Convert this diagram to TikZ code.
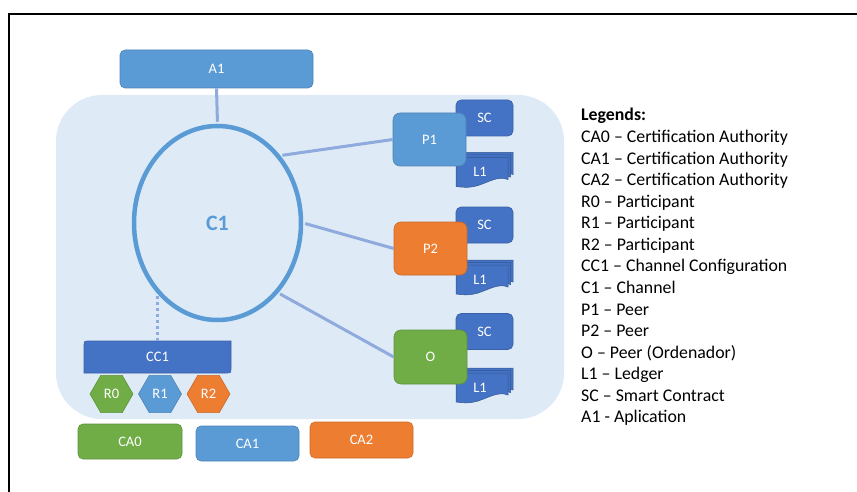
\documentclass[tikz,border=0pt]{standalone}
\usepackage{fontspec}
\setmainfont{Carlito}
\usetikzlibrary{shapes.geometric}
\definecolor{cblue}{RGB}{91,155,213}
\definecolor{dblue}{RGB}{68,114,196}
\definecolor{corange}{RGB}{237,125,49}
\definecolor{cgreen}{RGB}{112,173,71}
\definecolor{bgblue}{RGB}{222,235,247}
\definecolor{lineblue}{RGB}{143,170,220}
\tikzset{
  lbl/.style={text=white, font=\fontsize{14.5}{16}\selectfont},
  box/.style={rectangle, rounded corners=5pt, inner sep=0pt, lbl, line width=0.6pt},
  bluebox/.style={box, fill=cblue, draw=cblue!85!black},
  darkbox/.style={box, fill=dblue, draw=dblue!85!black},
  orangebox/.style={box, fill=corange, draw=corange!85!black},
  greenbox/.style={box, fill=cgreen, draw=cgreen!85!black},
  peer/.style={rounded corners=7pt, minimum width=73pt, minimum height=53pt},
  scbox/.style={darkbox, minimum width=57pt, minimum height=36pt},
  cabox/.style={minimum width=103pt, minimum height=35pt},
  hexa/.style={regular polygon, regular polygon sides=6, minimum size=43pt,
    inner sep=0pt, lbl, line width=0.6pt},
  conn/.style={draw=lineblue, line width=3pt},
  docshape/.style={fill=dblue, draw=dblue!75!black, line width=0.5pt},
  legend/.style={inner sep=0pt, anchor=base west, font=\fontsize{17.8}{21.6}\selectfont},
  mdoc/.pic={
    \foreach \d in {5,2.5,0} {
      \path[docshape] (\d,-\d) -- (52+\d,-\d) -- (52+\d,22-\d)
        .. controls (42+\d,18-\d) and (32+\d,25-\d) .. (22+\d,28-\d)
        .. controls (12+\d,31-\d) and (5+\d,29.5-\d) .. (\d,29-\d) -- cycle;
    }
  }
}
\begin{document}
\begin{tikzpicture}[x=1pt,y=-1pt]
\useasboundingbox (0,0) rectangle (857,492);
% frame
\draw[line width=2.5pt] (9,492) -- (9,14) -- (857,14);
% channel background
\node[fill=bgblue, rounded corners=46pt, minimum width=508pt, minimum height=324pt, inner sep=0pt] (chan) at (310,257) {};
% application
\node[bluebox, minimum width=193pt, minimum height=38pt] (a1) at (216.5,69) {A1};
% channel ellipse
\node[ellipse, draw=cblue, line width=4.5pt, minimum width=167pt, minimum height=194pt,
  inner sep=0pt, text=cblue, font=\fontsize{22}{24}\selectfont\bfseries] (c1) at (217.5,223) {C1};
% smart contracts
\node[scbox] (sc1) at (484.5,118) {SC};
\node[scbox] (sc2) at (484.5,225) {SC};
\node[scbox] (sc3) at (484.5,331.5) {SC};
% ledgers
\pic at (456,157.5) {mdoc};
\pic at (456,265) {mdoc};
\pic at (456,373) {mdoc};
\node[lbl] (l1a) at (480,172) {L1};
\node[lbl] (l1b) at (480,280) {L1};
\node[lbl] (l1c) at (480,388) {L1};
% peers
\node[bluebox, peer] (p1) at (429.5,139.5) {P1};
\node[orangebox, peer] (p2) at (430.5,248.5) {P2};
\node[greenbox, peer, minimum height=54pt] (o) at (430.5,357) {O};
% connectors
\draw[conn, shorten >=2pt] (a1.south) -- (c1.north);
\draw[conn, shorten <=2pt] (c1.47) -- (p1.west);
\draw[conn, shorten <=2pt] (c1.east) -- (p2.west);
\draw[conn, shorten <=2pt] (c1.-49) -- (o.west);
% channel configuration
\path[fill=dblue, draw=dblue!85!black, line width=0.6pt]
  (84,373) -- (84,346) .. controls (84,341) .. (89,341) -- (231,341) -- (231,368)
  .. controls (231,373) .. (226,373) -- cycle;
\node[lbl, minimum width=147pt, minimum height=32pt, inner sep=0pt] (cc1) at (157.5,357) {CC1};
\coordinate (cctop) at (157.5,296);
\draw[draw=lineblue, line width=3pt, dash pattern=on 3pt off 3pt] (cc1.north) -- (cctop);
% participants
\node[hexa, fill=cgreen, draw=cgreen!85!black] (r0) at (111.5,394) {R0};
\node[hexa, fill=cblue, draw=cblue!85!black] (r1) at (160,394) {R1};
\node[hexa, fill=corange, draw=corange!85!black] (r2) at (208.5,394) {R2};
% certification authorities
\node[greenbox, cabox, minimum width=104pt] (ca0) at (130,441.5) {CA0};
\node[bluebox, cabox] (ca1) at (247.5,443.5) {CA1};
\node[orangebox, cabox, minimum height=36pt] (ca2) at (361.5,440) {CA2};
% legend
\node[legend, font=\fontsize{17.8}{21.6}\selectfont\bfseries] (leg0) at (581,121) {Legends:};
\foreach \t [count=\i] in {{CA0 – Certification Authority},{CA1 – Certification Authority},
  {CA2 – Certification Authority},{R0 – Participant},{R1 – Participant},{R2 – Participant},
  {CC1 – Channel Configuration},{C1 – Channel},{P1 – Peer},{P2 – Peer},
  {O – Peer (Ordenador)},{L1 – Ledger},{SC – Smart Contract},{A1 - Aplication}} {
  \node[legend] (leg\i) at (581,121+21.57*\i) {\t};
}
\end{tikzpicture}
\end{document}
